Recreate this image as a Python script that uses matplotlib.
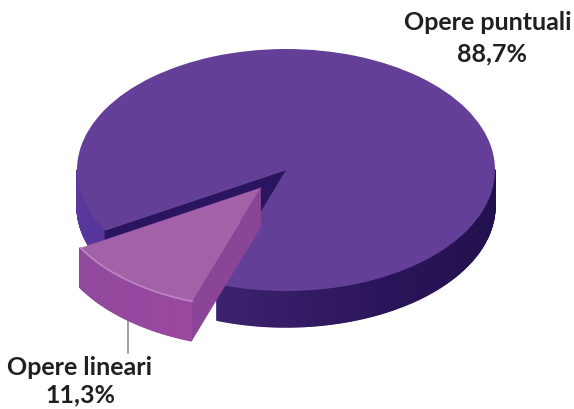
import numpy as np
import matplotlib
matplotlib.use('Agg')
import matplotlib.pyplot as plt
from matplotlib.collections import PolyCollection
from matplotlib.colors import to_rgb

labels = ['Opere puntuali', 'Opere lineari']
values = [88.7, 11.3]
value_labels = ['88,7%', '11,3%']

# picture geometry in pixels
W, H = 574, 410
CX, CY = 286, 171
RX, RY = 209, 121
EXPLODE = 0.19
SLICE_START = 210.0


def px(x, y):
    # pixel of the picture -> data coordinates of the pie
    return (x - CX) / RX, (CY - y) / RY


def mix(c1, c2, t):
    c1, c2 = np.array(to_rgb(c1)), np.array(to_rgb(c2))
    return tuple(c1 + (c2 - c1) * t)


def side_band(ax, center, a0, a1, depth, color_a, color_b, zorder):
    # curved side of a slice, made of thin strips
    angles = np.radians(np.linspace(a0, a1, 80))
    polys = []
    colors = []
    for i in range(len(angles) - 1):
        x0, y0 = center[0] + np.cos(angles[i]), center[1] + np.sin(angles[i])
        x1, y1 = center[0] + np.cos(angles[i + 1]), center[1] + np.sin(angles[i + 1])
        polys.append([(x0, y0), (x1, y1), (x1, y1 - depth), (x0, y0 - depth)])
        colors.append(mix(color_a, color_b, i / (len(angles) - 2)))
    ax.add_collection(PolyCollection(polys, facecolors=colors, edgecolors=colors,
                                     linewidths=1.0, zorder=zorder))


def radial_face(ax, center, angle, depth, color, zorder):
    a = np.radians(angle)
    ex, ey = center[0] + np.cos(a), center[1] + np.sin(a)
    pts = [center, (ex, ey), (ex, ey - depth), (center[0], center[1] - depth)]
    ax.add_patch(plt.Polygon(pts, closed=True, facecolor=color, edgecolor=color,
                             linewidth=0.5, zorder=zorder))


fig = plt.figure(figsize=(W / 100, H / 100), dpi=100)
ax = fig.add_axes([0, 0, 1, 1])

slice_angle = values[1] / sum(values) * 360
start = SLICE_START - values[0] / sum(values) * 360
wedges, _ = ax.pie(values, colors=['#633f98', '#a362a8'], startangle=start,
                   explode=[0, EXPLODE], radius=1, wedgeprops={'linewidth': 0})
ax.set_aspect('auto')
ax.set_xlim(px(0, 0)[0], px(W, 0)[0])
ax.set_ylim(px(0, H)[1], px(0, 0)[1])
ax.axis('off')

wedges[0].set_zorder(4)
wedges[1].set_zorder(7)

# sides of the main slice
main_depth = 36 / RY
slice_end = SLICE_START + slice_angle
side_band(ax, (0, 0), 180, SLICE_START, main_depth, '#5b3a9e', '#56349a', 2)
side_band(ax, (0, 0), slice_end, 300, main_depth, '#3d2270', '#2a1459', 2)
side_band(ax, (0, 0), 300, 360, main_depth, '#2a1459', '#21104a', 2)
radial_face(ax, (0, 0), SLICE_START, main_depth, '#2b1560', 3)

# sides of the pulled out slice
mid = np.radians(SLICE_START + slice_angle / 2)
slice_center = (EXPLODE * np.cos(mid), EXPLODE * np.sin(mid))
slice_depth = 39 / RY
radial_face(ax, slice_center, slice_end, slice_depth, '#8b4597', 5)
side_band(ax, slice_center, SLICE_START, slice_end, slice_depth, '#8f4a9e', '#9a479f', 6)

# light rim on the outer edge of the slice top
rim = np.radians(np.linspace(SLICE_START, slice_end, 40))
ax.plot(slice_center[0] + 0.995 * np.cos(rim), slice_center[1] + 0.995 * np.sin(rim),
        color='#bb83bf', lw=1.3, zorder=8)

# leader line
line_x, line_y = zip(px(128, 318), px(128, 354))
ax.plot(line_x, line_y, color='#9a9a9a', lw=1.3, zorder=1)

# labels
font = {'family': 'Lato', 'weight': 'bold', 'size': 18, 'color': '#231f20',
        'ha': 'center', 'va': 'center'}
for (x, y), text in [((488, 23), labels[0]), ((492, 54), value_labels[0]),
                     ((80, 368), labels[1]), ((80, 395), value_labels[1])]:
    ax.text(*px(x, y), text, **font)

fig.savefig('out.png', dpi=100)
